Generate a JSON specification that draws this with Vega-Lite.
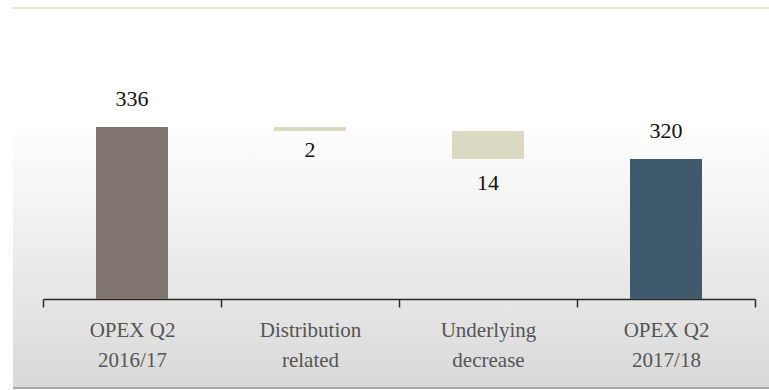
{
  "$schema": "https://vega.github.io/schema/vega-lite/v6.json",
  "width": 756,
  "height": 380,
  "autosize": {"type": "none"},
  "padding": {"left": 13, "top": 8, "right": 0, "bottom": 2},
  "background": "#ffffff",
  "config": {
    "view": {
      "stroke": null,
      "fill": {
        "gradient": "linear", "x1": 0, "y1": 0, "x2": 0, "y2": 1,
        "stops": [
          {"offset": 0, "color": "#ffffff"},
          {"offset": 0.3, "color": "#ffffff"},
          {"offset": 1, "color": "#d9d9d9"}
        ]
      }
    },
    "axisX": {
      "title": null,
      "offset": -89,
      "labelAngle": 0,
      "labelExpr": "datum.value ? split(datum.value, '|') : ''",
      "labelFont": "Liberation Serif",
      "labelFontSize": 21,
      "labelColor": "#555555",
      "labelLineHeight": 30,
      "labelPadding": 12,
      "domainColor": "#2a2a22",
      "domainWidth": 1.5,
      "tickColor": "#2a2a22",
      "tickWidth": 1.5,
      "tickSize": 8,
      "tickBand": "extent",
      "grid": false
    }
  },
  "data": {
    "values": [
      {"step": "OPEX Q2|2016/17", "kind": "total", "start": 336, "end": 336, "amount": 336},
      {"step": "Distribution|related", "kind": "change", "start": 336, "end": 334, "amount": 2},
      {"step": "Underlying|decrease", "kind": "change", "start": 334, "end": 320, "amount": 14},
      {"step": "OPEX Q2|2017/18", "kind": "total", "start": 320, "end": 320, "amount": 320}
    ]
  },
  "layer": [
    {
      "mark": {"type": "rule", "color": "#e8e4cc", "strokeWidth": 2},
      "encoding": {"y": {"datum": 395.5, "type": "quantitative", "scale": {"domain": [205.5, 395.5], "zero": false, "nice": false}, "axis": null}}
    },
    {
      "mark": {"type": "rule", "color": "#a8a8a8", "strokeWidth": 2},
      "encoding": {"y": {"datum": 205.5, "type": "quantitative"}}
    },
    {
      "transform": [{"filter": "datum.kind == 'total'"}],
      "mark": {"type": "bar", "width": {"band": 0.4045}},
      "encoding": {
        "x": {"field": "step", "type": "nominal",
          "scale": {"domain": ["OPEX Q2|2016/17", "Distribution|related", "Underlying|decrease", "OPEX Q2|2017/18"], "range": [30, 742], "paddingInner": 0, "paddingOuter": 0}},
        "y": {"field": "end", "type": "quantitative"},
        "y2": {"datum": 250},
        "color": {"field": "step", "type": "nominal", "legend": null,
          "scale": {"domain": ["OPEX Q2|2016/17", "Distribution|related", "Underlying|decrease", "OPEX Q2|2017/18"],
                    "range": ["#80766f", "#dbd9c1", "#dbd9c1", "#3e5a6c"]}}
      }
    },
    {
      "transform": [{"filter": "datum.kind == 'change'"}],
      "mark": {"type": "bar", "width": {"band": 0.4045}},
      "encoding": {
        "x": {"field": "step", "type": "nominal"},
        "y": {"field": "start", "type": "quantitative"},
        "y2": {"field": "end"},
        "color": {"field": "step", "type": "nominal", "legend": null}
      }
    },
    {
      "transform": [{"filter": "datum.kind == 'total'"}],
      "mark": {"type": "text", "font": "Liberation Serif", "fontSize": 22, "color": "#111111", "baseline": "middle", "dy": -28},
      "encoding": {
        "x": {"field": "step", "type": "nominal"},
        "y": {"field": "end", "type": "quantitative"},
        "text": {"field": "amount", "type": "quantitative"}
      }
    },
    {
      "transform": [{"filter": "datum.amount == 2"}],
      "mark": {"type": "text", "font": "Liberation Serif", "fontSize": 22, "color": "#111111", "baseline": "middle", "dy": 19},
      "encoding": {
        "x": {"field": "step", "type": "nominal"},
        "y": {"field": "end", "type": "quantitative"},
        "text": {"field": "amount", "type": "quantitative"}
      }
    },
    {
      "transform": [{"filter": "datum.amount == 14"}],
      "mark": {"type": "text", "font": "Liberation Serif", "fontSize": 22, "color": "#111111", "baseline": "middle", "dy": 24},
      "encoding": {
        "x": {"field": "step", "type": "nominal"},
        "y": {"field": "end", "type": "quantitative"},
        "text": {"field": "amount", "type": "quantitative"}
      }
    }
  ]
}
